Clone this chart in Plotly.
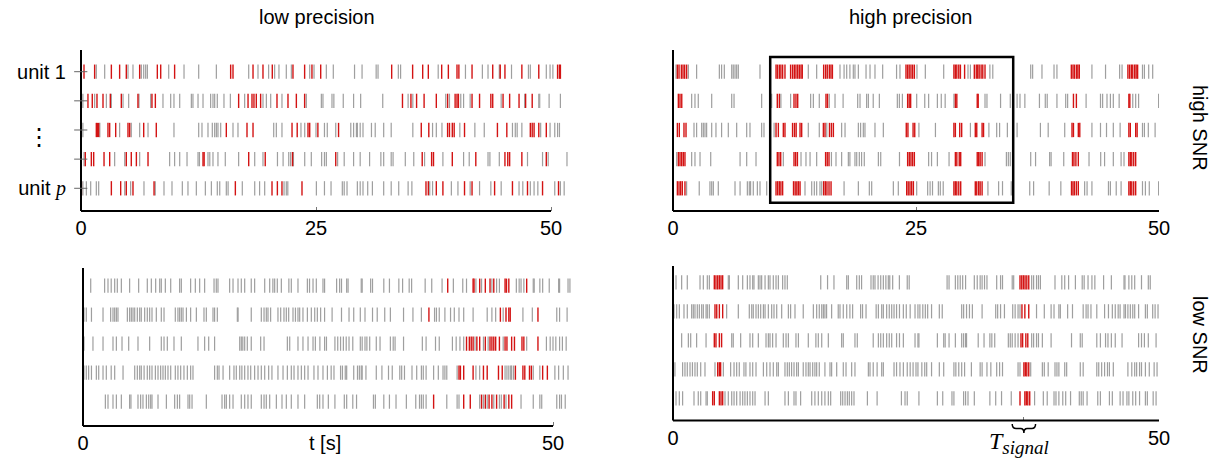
import plotly.graph_objects as go

# ---------------- data (spike times in seconds, rows = units 1..5) ----------------
ROWS = [1, 2, 3, 4, 5]

TL_red = [
    [0.32, 1.45, 3.23, 4.11, 4.82, 6.24, 8.12, 8.48, 9.96, 15.92, 16.17, 18.3, 19.36, 20.35, 22.55, 23.79, 24.57, 25.5,
     33.05, 35.28, 36.35, 36.95, 38.37, 39.08, 40.0, 40.2, 41.6, 43.8, 44.6, 45.1, 46.9, 48.7, 50.7, 50.9, 51.0],
    [0.74, 1.2, 1.7, 2.34, 3.12, 4.29, 6.06, 7.55, 7.91, 16.77, 17.77, 18.19, 18.4, 18.65, 19.11, 20.85, 22.02, 22.91,
     23.79, 34.2, 35.1, 35.7, 36.5, 37.8, 39.0, 39.8, 40.0, 40.15, 41.6, 42.4, 43.6, 43.8, 44.9, 45.6, 46.6, 47.3, 48.0],
    [1.63, 1.74, 1.88, 2.87, 3.05, 3.69, 5.0, 5.18, 6.67, 8.01, 15.46, 17.66, 18.3, 22.45, 23.0, 24.15, 24.33, 25.2,
     27.4, 36.2, 37.0, 39.0, 39.2, 39.5, 39.7, 40.8, 44.3, 45.3, 47.8, 48.0, 48.2, 48.7, 49.5],
    [0.46, 1.1, 1.35, 2.45, 3.05, 4.82, 5.35, 5.89, 7.13, 12.98, 13.1, 17.84, 19.6, 22.5, 27.1, 36.3, 37.3, 37.5, 39.5,
     42.0, 45.1, 45.4, 45.6, 46.9, 49.5],
    [0.04, 3.23, 4.22, 4.82, 5.53, 7.77, 16.42, 20.32, 20.89, 21.38, 23.51, 36.7, 36.95, 37.8, 38.5, 40.8, 41.6, 44.0,
     45.9, 47.5, 49.1, 50.8],
]
TL_gray = [
    [1.63, 2.52, 5.0, 5.53, 6.42, 6.67, 6.88, 7.06, 9.33, 10.96, 12.52, 14.4, 17.84, 18.83, 19.96, 20.6, 21.06, 21.84,
     22.38, 24.33, 24.79, 26.1, 26.84, 29.1, 29.9, 31.4, 31.6, 33.76, 34.0, 38.0, 40.9, 42.7, 43.3, 44.5, 45.8, 47.6,
     47.8, 49.5, 49.9, 50.2],
    [0.04, 0.2, 1.45, 2.7, 3.23, 4.47, 5.07, 6.17, 7.41, 8.72, 9.54, 9.89, 10.5, 11.74, 11.91, 12.45, 12.98, 13.79,
     14.04, 14.22, 14.5, 15.21, 15.89, 17.41, 19.36, 19.72, 20.18, 21.38, 23.97, 25.57, 25.74, 26.7, 26.9, 27.9, 29.0,
     29.75, 32.1, 34.8, 35.3, 38.8, 39.2, 40.4, 40.7, 41.4, 44.7, 47.2, 48.7, 48.8, 49.8, 51.0],
    [0.2, 2.0, 4.11, 5.35, 6.24, 7.13, 9.89, 12.52, 12.87, 13.51, 13.97, 14.22, 14.4, 14.57, 14.86, 16.17, 16.7, 20.5,
     20.78, 21.38, 23.4, 23.8, 25.0, 25.9, 26.2, 27.1, 28.7, 29.0, 29.3, 29.4, 29.7, 30.0, 30.9, 31.3, 32.2, 33.0,
     35.3, 37.4, 37.8, 38.4, 40.3, 41.9, 42.9, 45.9, 46.2, 46.4, 46.9, 48.9, 49.9, 50.4, 50.7, 50.9],
    [0.32, 3.58, 4.65, 6.24, 9.43, 9.96, 10.5, 11.28, 12.45, 12.6, 13.51, 13.7, 14.04, 14.57, 15.35, 16.77, 18.48,
     19.36, 20.9, 21.5, 22.1, 22.3, 22.6, 23.8, 24.5, 25.6, 25.9, 26.1, 27.3, 28.0, 29.0, 29.7, 30.7, 31.9, 32.2, 33.0,
     33.2, 34.5, 35.4, 36.55, 38.5, 40.7, 41.3, 43.3, 43.5, 44.5, 47.5, 49.1, 49.7, 51.7],
    [0.2, 0.57, 1.03, 1.63, 1.88, 4.65, 5.28, 6.7, 7.9, 8.83, 9.68, 10.78, 11.38, 12.27, 13.23, 13.87, 14.5, 14.76,
     15.46, 15.65, 17.16, 18.48, 19.0, 19.54, 21.6, 21.84, 22.0, 25.04, 25.9, 26.6, 27.8, 28.0, 28.3, 29.4, 29.7, 30.0,
     30.5, 31.0, 32.2, 33.0, 33.8, 34.8, 35.2, 37.1, 37.4, 39.4, 40.1, 41.4, 42.4, 43.6, 44.7, 46.6, 47.0, 47.8, 48.2,
     48.6, 50.4, 51.0, 51.4],
]

TR_red = [
    [0.45, 0.62, 0.86, 1.03, 1.2, 1.4, 10.6, 10.75, 10.94, 11.1, 11.28, 11.52, 12.1, 12.3, 12.48, 12.65, 12.83, 13.0,
     13.17, 13.3, 15.5, 15.7, 15.87, 16.08, 16.25, 16.4, 23.97, 24.14, 24.3, 24.48, 24.65, 24.83, 28.9, 29.05, 29.2,
     29.4, 29.57, 30.0, 31.0, 31.2, 31.35, 31.5, 31.7, 31.87, 32.1, 40.98, 41.15, 41.3, 41.5, 41.65, 41.8, 46.8, 46.97,
     47.15, 47.3, 47.5, 47.65, 47.8],
    [0.55, 0.72, 0.9, 10.73, 10.94, 12.45, 12.65, 12.83, 15.74, 15.9, 24.14, 24.3, 24.45, 29.05, 29.2, 31.3, 31.4,
     41.2, 41.5, 46.9, 47.0],
    [0.45, 0.65, 1.13, 1.34, 10.6, 10.84, 11.35, 11.52, 12.3, 12.5, 12.67, 13.07, 13.24, 15.47, 15.64, 16.1, 16.3,
     16.5, 24.0, 24.17, 24.7, 24.87, 28.9, 29.05, 29.5, 29.7, 31.1, 31.25, 31.8, 31.95, 41.05, 41.2, 41.7, 41.85,
     46.9, 47.05, 47.6, 47.75],
    [0.55, 0.72, 0.89, 1.06, 1.23, 10.73, 10.9, 11.08, 12.45, 12.62, 12.8, 15.7, 15.87, 16.05, 24.14, 24.31, 24.48,
     24.65, 24.83, 29.05, 29.2, 29.45, 29.6, 31.3, 31.45, 31.6, 31.8, 41.1, 41.25, 41.45, 41.7, 46.9, 47.05, 47.2,
     47.4, 47.6],
    [0.45, 0.62, 0.79, 0.96, 1.23, 10.6, 10.77, 10.94, 11.1, 11.28, 12.4, 12.57, 12.74, 12.9, 13.07, 15.5, 15.67,
     15.84, 16.05, 16.26, 24.04, 24.2, 24.38, 24.55, 24.73, 28.9, 29.05, 29.2, 29.4, 29.6, 31.1, 31.25, 31.45, 31.6,
     31.8, 41.0, 41.15, 41.3, 41.5, 41.7, 46.9, 47.05, 47.2, 47.4, 47.6],
]
TR_gray = [
    [0.31, 1.58, 2.43, 4.77, 5.0, 5.28, 6.04, 6.2, 6.38, 6.55, 6.72, 8.95, 13.92, 14.78, 17.18, 17.6, 17.87, 18.2,
     18.55, 18.72, 19.07, 19.86, 20.27, 20.78, 21.57, 23.0, 23.35, 25.1, 25.96, 27.85, 30.35, 30.6, 32.6, 32.9, 36.8,
     37.0, 37.96, 39.2, 39.5, 43.1, 44.5, 45.95, 46.2, 48.3, 48.5, 48.94, 49.35],
    [1.92, 2.26, 2.6, 3.98, 6.04, 6.28, 9.12, 10.15, 11.1, 12.1, 14.16, 14.44, 15.05, 16.08, 16.67, 17.5, 19.0, 19.24,
     19.92, 20.1, 20.6, 21.23, 23.08, 23.29, 23.6, 25.07, 25.9, 26.3, 27.2, 27.6, 28.0, 28.9, 32.1, 32.3, 33.7, 34.7,
     34.95, 35.4, 35.7, 36.2, 37.7, 38.3, 38.5, 39.5, 40.4, 40.6, 42.5, 43.98, 44.2, 44.65, 45.0, 45.3, 45.9, 47.3,
     47.6, 47.9, 49.96],
    [2.16, 2.43, 2.95, 3.12, 3.29, 3.46, 3.98, 4.42, 5.0, 5.69, 6.55, 7.58, 7.92, 9.12, 9.36, 10.4, 13.92, 15.05,
     15.82, 17.35, 17.7, 19.07, 19.3, 19.58, 19.75, 20.78, 21.64, 25.3, 27.0, 30.6, 32.5, 33.3, 33.6, 34.4, 35.4, 37.8,
     38.6, 40.3, 43.1, 43.98, 44.6, 45.3, 46.0, 48.3, 48.5, 48.9, 49.6],
    [0.38, 1.92, 2.26, 2.78, 3.88, 6.9, 7.58, 8.54, 11.35, 13.17, 13.68, 14.1, 14.78, 16.3, 16.77, 17.35, 18.04, 18.2,
     18.72, 18.9, 19.17, 19.4, 19.68, 21.13, 21.37, 23.3, 26.3, 26.6, 27.2, 28.4, 32.1, 34.3, 34.5, 34.7, 35.0, 36.8,
     37.3, 38.75, 38.9, 40.2, 42.8, 44.0, 44.4, 45.3, 46.1, 46.4],
    [1.4, 2.7, 3.8, 3.98, 4.15, 4.66, 6.38, 6.9, 7.65, 7.85, 7.98, 8.26, 8.68, 8.95, 9.64, 13.58, 14.27, 14.54, 14.78,
     15.12, 15.3, 17.6, 19.07, 20.2, 20.44, 22.67, 23.18, 25.07, 26.2, 26.45, 26.7, 27.3, 27.5, 27.8, 32.4, 33.5, 33.9,
     34.8, 34.95, 36.7, 37.1, 38.7, 39.9, 42.35, 42.6, 43.1, 44.8, 45.0, 45.6, 46.1, 48.3, 48.6, 49.0, 49.96],
]

BL_red = [
    [38.8, 41.5, 41.6, 42.2, 42.8, 43.3, 43.7, 44.9, 45.05, 45.3, 47.2],
    [36.8, 44.4, 45.0, 45.3, 45.45, 48.4],
    [40.8, 41.1, 41.3, 41.5, 41.9, 42.2, 42.8, 43.3, 43.5, 43.7, 43.9, 44.3, 44.9, 45.1, 45.6, 45.9, 46.7, 46.9, 48.4],
    [40.0, 40.15, 40.5, 41.5, 42.6, 43.0, 44.2, 44.6, 46.0, 46.8, 47.0, 47.5, 47.7, 48.9, 49.4],
    [37.3, 40.5, 41.2, 42.4, 42.8, 43.2, 43.5, 44.0, 44.8, 45.3, 45.6],
]
BL_gray = [
    [0.82, 2.3, 2.66, 3.0, 3.37, 3.65, 4.08, 4.96, 5.92, 6.84, 7.27, 7.73, 8.16, 8.33, 8.76, 9.33, 10.28, 10.46, 11.45,
     11.95, 12.41, 12.94, 13.94, 14.18, 14.36, 15.6, 15.96, 16.49, 16.84, 17.2, 17.9, 18.26, 19.33, 19.86, 20.2, 20.39,
     20.67, 21.1, 21.9, 22.16, 22.87, 23.87, 24.1, 24.47, 24.82, 25.53, 25.7, 26.98, 27.3, 27.5, 28.05, 28.2, 29.6,
     29.7, 30.6, 30.8, 32.0, 32.6, 33.6, 34.0, 34.7, 34.96, 36.4, 37.1, 38.2, 39.4, 40.4, 40.8, 41.8, 42.4, 43.5, 44.0,
     44.3, 46.1, 46.4, 46.6, 46.9, 47.9, 48.0, 48.6, 48.9, 49.6, 50.6, 50.7, 51.6, 51.8],
    [0.1, 0.35, 0.9, 2.13, 2.94, 3.19, 3.37, 3.55, 3.72, 4.72, 4.96, 5.14, 5.32, 5.5, 5.78, 6.03, 6.2, 6.56, 6.84,
     7.09, 7.34, 7.8, 8.33, 8.62, 9.82, 10.1, 10.28, 10.46, 10.64, 11.0, 11.45, 12.06, 12.87, 13.12, 13.83, 14.0,
     14.29, 16.42, 16.5, 17.9, 18.97, 19.26, 19.5, 19.68, 19.96, 20.74, 21.03, 21.38, 21.63, 21.88, 22.34, 22.6, 22.87,
     23.05, 23.4, 23.87, 24.29, 24.65, 24.93, 25.28, 25.7, 26.5, 27.5, 28.3, 28.8, 29.5, 30.0, 30.8, 31.3, 32.1, 32.7,
     34.1, 35.1, 36.0, 37.4, 37.6, 37.9, 38.5, 39.1, 39.5, 40.0, 40.5, 41.5, 43.0, 43.5, 43.9, 44.7, 46.8, 47.8, 50.4,
     50.7, 51.5],
    [0.1, 1.06, 2.13, 3.19, 3.55, 4.15, 4.86, 5.85, 7.09, 8.33, 8.62, 8.97, 9.68, 10.46, 12.23, 12.94, 13.37, 14.0,
     16.67, 16.84, 17.0, 17.2, 17.48, 17.9, 18.9, 19.26, 21.74, 21.99, 22.87, 23.4, 23.94, 24.47, 24.72, 25.2, 25.7,
     25.9, 26.8, 27.1, 27.4, 27.7, 28.0, 28.3, 28.7, 29.5, 29.7, 30.0, 30.2, 30.5, 31.2, 31.6, 32.7, 33.0, 33.2, 34.1,
     36.1, 36.5, 37.5, 37.9, 39.3, 39.7, 40.1, 40.5, 41.7, 42.6, 43.1, 44.7, 47.2, 49.3, 49.7, 50.0, 50.3, 50.7, 51.0,
     51.4],
    [0.1, 0.35, 0.6, 0.9, 1.42, 1.67, 2.13, 2.48, 3.0, 3.37, 4.26, 5.5, 5.78, 6.03, 6.2, 6.5, 6.84, 7.09, 7.34, 7.7,
     7.98, 8.26, 8.51, 8.76, 9.04, 9.33, 9.82, 10.1, 10.39, 10.74, 11.1, 11.45, 11.7, 14.0, 14.29, 14.47, 14.9, 15.6,
     16.06, 16.31, 16.67, 16.9, 17.2, 17.55, 17.84, 18.26, 18.62, 18.97, 19.33, 19.75, 20.1, 20.74, 21.28, 21.74,
     22.16, 22.45, 22.87, 23.23, 23.58, 23.94, 24.57, 25.0, 25.53, 26.0, 26.4, 26.7, 27.4, 27.6, 27.9, 28.05, 28.8,
     29.2, 29.4, 29.6, 29.7, 30.1, 31.2, 31.8, 32.5, 32.9, 33.7, 33.9, 34.2, 35.0, 35.5, 36.0, 36.2, 36.5, 37.3, 37.8,
     38.3, 38.5, 38.7, 39.8, 41.8, 42.2, 44.9, 45.1, 45.3, 45.5, 45.6, 45.8, 47.9, 48.6, 50.2, 50.6, 51.1, 51.6],
    [2.38, 2.66, 3.19, 3.55, 4.08, 4.96, 5.1, 5.85, 6.13, 6.38, 6.74, 6.99, 7.2, 7.34, 7.98, 8.87, 9.75, 10.04, 10.28,
     11.17, 11.35, 11.6, 13.12, 14.79, 15.07, 15.25, 15.6, 15.96, 16.84, 17.2, 17.55, 17.9, 18.97, 19.26, 19.5, 19.86,
     20.57, 21.17, 21.63, 22.16, 22.87, 23.58, 24.93, 25.18, 25.53, 26.1, 26.8, 27.8, 28.05, 28.7, 29.1, 30.9, 31.1,
     32.0, 32.6, 33.3, 34.4, 35.4, 35.8, 36.0, 36.2, 36.5, 38.7, 39.8, 40.0, 42.2, 42.6, 43.0, 43.7, 44.3, 44.5, 45.0,
     46.6, 47.9, 48.6, 48.8, 50.4, 50.7, 50.9, 51.3],
]

BR_red = [
    [4.25, 4.42, 4.6, 4.77, 4.94, 5.11, 35.7, 35.88, 36.05, 36.22, 36.4, 36.6],
    [4.32, 4.5, 4.77, 5.11, 35.9, 36.2, 36.6],
    [4.25, 4.42, 4.77, 5.0, 35.8, 35.97, 36.3, 36.5],
    [4.6, 4.77, 4.9, 36.1, 36.25, 36.4, 36.6],
    [4.08, 4.25, 4.77, 4.94, 5.11, 35.7, 36.2, 36.35, 36.5, 36.7],
]
BR_gray = [
    [0.31, 0.89, 1.47, 2.78, 3.12, 3.53, 3.74, 5.69, 5.8, 6.72, 7.17, 7.65, 7.92, 8.2, 8.33, 8.78, 8.95, 9.12, 9.47,
     9.81, 9.98, 10.32, 10.6, 10.84, 11.28, 11.52, 11.76, 15.2, 15.9, 16.56, 17.87, 18.04, 18.9, 19.17, 19.4, 20.37,
     20.6, 20.78, 21.1, 21.37, 21.64, 21.9, 22.15, 22.3, 22.6, 23.29, 24.1, 24.3, 28.2, 28.4, 29.05, 29.3, 29.55, 29.8,
     30.1, 31.0, 31.3, 31.6, 31.8, 32.05, 32.3, 33.3, 33.7, 33.9, 34.9, 35.05, 36.9, 37.1, 37.4, 37.6, 37.8, 39.3,
     40.0, 40.3, 40.7, 41.4, 42.1, 42.3, 42.7, 43.1, 43.4, 44.3, 45.1, 46.4, 46.5, 46.9, 47.2, 47.5, 48.2, 48.9, 49.1],
    [0.1, 0.38, 0.65, 1.13, 1.47, 1.92, 2.09, 2.26, 2.5, 2.71, 2.95, 3.12, 3.4, 3.53, 3.74, 5.52, 6.72, 7.85, 8.1,
     8.26, 8.54, 8.78, 9.02, 9.3, 9.47, 9.81, 10.15, 10.39, 10.67, 11.18, 11.87, 12.1, 12.55, 13.4, 14.44, 14.78,
     15.05, 15.3, 15.47, 15.63, 15.8, 16.32, 17.0, 17.18, 17.52, 17.87, 18.2, 18.48, 19.3, 19.5, 19.86, 20.9, 21.13,
     21.47, 21.64, 21.98, 22.25, 22.5, 22.74, 23.0, 23.3, 23.7, 24.0, 24.4, 24.9, 25.2, 25.4, 25.7, 25.96, 26.2, 26.6,
     27.4, 27.7, 29.7, 29.9, 30.2, 30.5, 30.8, 31.8, 33.2, 33.4, 33.7, 34.1, 34.95, 35.2, 35.5, 35.7, 37.4, 38.2, 38.9,
     39.2, 39.7, 39.85, 40.6, 41.1, 42.2, 42.5, 42.7, 43.0, 43.6, 44.4, 44.8, 45.2, 45.5, 45.8, 46.0, 46.4, 46.55,
     46.8, 47.05, 47.3, 47.5, 47.9, 48.6, 48.8, 49.35, 49.6, 49.9],
    [0.89, 1.58, 1.82, 2.43, 3.4, 6.04, 6.2, 6.96, 7.92, 8.2, 8.78, 9.57, 9.81, 9.98, 10.25, 10.6, 11.35, 11.63,
     11.87, 12.65, 12.9, 13.92, 14.7, 14.95, 15.3, 15.98, 17.35, 17.52, 18.72, 18.96, 20.6, 21.13, 21.37, 21.64, 21.98,
     22.25, 22.5, 23.0, 23.3, 23.7, 24.9, 25.2, 25.3, 27.2, 27.85, 28.0, 28.4, 29.05, 29.7, 29.9, 30.1, 30.2, 31.4,
     32.0, 32.6, 32.8, 33.1, 34.5, 34.7, 34.9, 35.2, 35.5, 36.9, 37.1, 37.4, 37.6, 38.0, 38.9, 41.0, 41.9, 42.1, 43.6,
     43.97, 44.5, 44.75, 45.1, 45.5, 46.2, 47.9, 48.2, 48.5, 48.9, 49.7],
    [0.2, 0.99, 1.23, 1.47, 1.75, 2.0, 2.26, 2.5, 2.85, 3.29, 4.32, 5.18, 5.93, 6.28, 6.55, 6.82, 7.3, 7.5, 7.92, 8.2,
     8.54, 9.3, 9.64, 9.98, 10.32, 10.67, 10.84, 11.52, 11.76, 11.97, 12.2, 12.45, 12.72, 12.9, 13.4, 13.68, 13.92,
     14.1, 14.37, 14.6, 14.78, 15.05, 15.63, 16.15, 16.32, 16.84, 17.52, 17.8, 18.38, 18.72, 20.1, 20.27, 20.6, 21.0,
     21.47, 21.64, 22.74, 23.0, 23.35, 23.7, 24.1, 24.4, 24.7, 25.0, 25.2, 25.6, 25.9, 26.1, 26.6, 27.4, 27.85, 28.9,
     29.1, 29.4, 29.7, 30.0, 30.7, 31.6, 31.8, 32.3, 32.7, 33.3, 33.6, 33.9, 35.5, 35.7, 36.8, 38.0, 38.2, 38.6, 39.3,
     39.5, 39.7, 40.3, 40.5, 41.9, 42.2, 43.6, 43.8, 44.1, 44.4, 44.7, 44.9, 45.3, 46.8, 47.2, 47.5, 47.7, 48.0, 48.2,
     48.6, 49.0, 49.5, 49.8],
    [0.03, 0.31, 0.65, 0.99, 2.16, 2.6, 2.85, 3.4, 3.53, 5.35, 5.69, 6.04, 6.28, 6.55, 6.9, 7.17, 7.4, 7.65, 7.92,
     8.2, 8.44, 9.47, 9.81, 11.52, 11.87, 12.45, 12.65, 13.13, 14.27, 14.6, 14.95, 15.3, 15.63, 15.98, 16.22, 17.25,
     17.46, 17.7, 17.94, 18.14, 18.38, 18.62, 20.0, 21.0, 23.5, 23.87, 24.1, 25.3, 27.2, 27.75, 28.7, 28.9, 29.9,
     30.1, 30.35, 31.0, 32.6, 33.2, 33.8, 34.8, 37.2, 38.1, 38.5, 39.2, 39.4, 39.7, 40.1, 40.4, 40.9, 41.8, 42.0, 42.2,
     42.6, 43.7, 43.97, 44.9, 45.2, 46.0, 46.3, 46.7, 46.9, 47.3, 47.6, 48.0, 48.6, 48.8, 49.4, 49.7],
]

X_TICKS_TOP = [0, 25, 50]
X_TICKS_BOTTOM = [0, 50]
UNIT_LABELS = ["unit 1", "", "", "", "unit <span style=\"font-family:'Liberation Serif'\"><i>p</i></span>"]
HIGHLIGHT_T = (10, 35)          # high-precision window (s)
HIGHLIGHT_ROWS = (0.5, 5.5)
T_SIGNAL = 36.1

# ---------------- styling helpers ----------------
W, H = 1228, 461
HALF = 0.245
GRAY = "#959595"
RED = "#d00000"
FONT = "Liberation Sans"


def px(x):
    return x / W


def py(y):
    return 1 - y / H


def segs(rows_times):
    xs, ys = [], []
    for r, ts in zip(ROWS, rows_times):
        for t in ts:
            xs += [t, t, None]
            ys += [r - HALF, r + HALF, None]
    return xs, ys


fig = go.Figure()
panels = [
    ("x", "y", TL_gray, TL_red),
    ("x2", "y2", TR_gray, TR_red),
    ("x3", "y3", BL_gray, BL_red),
    ("x4", "y4", BR_gray, BR_red),
]
for xa, ya, g, r in panels:
    for data, col, w, op in ((g, GRAY, 1.2, 0.9), (r, RED, 1.4, 0.92)):
        xs, ys = segs(data)
        fig.add_trace(go.Scatter(x=xs, y=ys, mode="lines", xaxis=xa, yaxis=ya, opacity=op,
                                 line=dict(color=col, width=w), hoverinfo="skip", showlegend=False))

common_x = dict(showgrid=False, zeroline=False, showline=False, ticks="inside", ticklen=4,
                tickcolor="#777", tickwidth=1, tickfont=dict(family=FONT, size=20, color="black"),
                ticklabelstandoff=3, automargin=False)
common_y = dict(showgrid=False, zeroline=False, showline=False, showticklabels=False, ticks="",
                automargin=False)

# pixel geometry of the four panels
TL = dict(l=81, r=570, t=50, b=211)
TR = dict(l=673, r=1159, t=50, b=211)
BL = dict(l=83, r=575, t=268, b=426)
BR = dict(l=673, r=1159, t=266, b=420.5)
SCALE_L = 9.4

fig.update_layout(
    width=W, height=H, margin=dict(l=0, r=0, t=0, b=0),
    paper_bgcolor="white", plot_bgcolor="rgba(0,0,0,0)",
    xaxis=dict(domain=[px(TL["l"]), px(TL["r"])], range=[0, (TL["r"] - TL["l"]) / SCALE_L],
               tickvals=X_TICKS_TOP, anchor="y", **common_x),
    yaxis=dict(domain=[py(TL["b"]), py(TL["t"])], range=[5.779, 0.256], anchor="x",
               **{**common_y, "showticklabels": True}, tickvals=ROWS, ticktext=UNIT_LABELS,
               tickfont=dict(family=FONT, size=20, color="black"), ticklabelstandoff=14),
    xaxis2=dict(domain=[px(TR["l"]), px(TR["r"])], range=[0, 50], tickvals=X_TICKS_TOP, anchor="y2", **common_x),
    yaxis2=dict(domain=[py(TR["b"]), py(TR["t"])], range=[5.779, 0.256], anchor="x2", **common_y),
    xaxis3=dict(domain=[px(BL["l"]), px(BL["r"])], range=[0, (BL["r"] - BL["l"]) / SCALE_L],
                tickvals=X_TICKS_BOTTOM, anchor="y3", **common_x),
    yaxis3=dict(domain=[py(BL["b"]), py(BL["t"])], range=[5.84, 0.39], anchor="x3", **common_y),
    xaxis4=dict(domain=[px(BR["l"]), px(BR["r"])], range=[0, 50], tickvals=[0, T_SIGNAL, 50],
                ticktext=["0", "", "50"], anchor="y4", **common_x),
    yaxis4=dict(domain=[py(BR["b"]), py(BR["t"])], range=[5.766, 0.438], anchor="x4", **common_y),
)

shapes = []
for xa, ya in (("x", "y"), ("x2", "y2"), ("x3", "y3"), ("x4", "y4")):
    dom_x = xa + " domain"
    dom_y = ya + " domain"
    shapes.append(dict(type="line", xref=dom_x, yref=dom_y, x0=0, x1=0, y0=0, y1=1,
                       line=dict(color="black", width=2)))
    shapes.append(dict(type="line", xref=xa, yref=dom_y, x0=0, x1=50, y0=0, y1=0,
                       line=dict(color="black", width=2)))
for r in ROWS:
    shapes.append(dict(type="line", xref="x domain", yref="y", x0=-0.014, x1=0.013, y0=r, y1=r,
                       line=dict(color="#666", width=1)))
shapes.append(dict(type="rect", xref="x2", yref="y2", x0=HIGHLIGHT_T[0], x1=HIGHLIGHT_T[1],
                   y0=HIGHLIGHT_ROWS[0], y1=HIGHLIGHT_ROWS[1], line=dict(color="black", width=2.5)))
ya_, ym_, yb_ = py(424), py(428.5), py(433)
t = T_SIGNAL
brace = (f"M {t-1.2},{ya_} Q {t-1.2},{ym_} {t-0.8},{ym_} L {t-0.35},{ym_} Q {t},{ym_} {t},{yb_} "
         f"Q {t},{ym_} {t+0.35},{ym_} L {t+0.8},{ym_} Q {t+1.2},{ym_} {t+1.2},{ya_}")
shapes.append(dict(type="path", xref="x4", yref="paper", path=brace, line=dict(color="black", width=1.5)))
fig.update_layout(shapes=shapes)

ann = [
    dict(text="low precision", x=px(317), y=py(17)),
    dict(text="high precision", x=px(910), y=py(17)),
    dict(text="high SNR", x=px(1200), y=py(128), textangle=90),
    dict(text="low SNR", x=px(1200), y=py(335), textangle=90),
    dict(text="t [s]", x=px(325), y=py(443)),
    dict(text="⋮", x=px(39), y=py(137), font=dict(family="DejaVu Sans", size=24, color="black")),
]
annotations = []
for a in ann:
    d = dict(xref="paper", yref="paper", showarrow=False, xanchor="center", yanchor="middle",
             font=dict(family=FONT, size=20, color="black"))
    d.update(a)
    annotations.append(d)
annotations.append(dict(xref="x4", yref="paper", x=T_SIGNAL - 0.5, y=py(443), showarrow=False,
                        xanchor="center", yanchor="middle",
                        text="<i>T</i><sub><span style=\"font-size:19px\"><i>signal</i></span></sub>",
                        font=dict(family="Liberation Serif", size=24, color="black")))
fig.update_layout(annotations=annotations)

fig.write_html("out.html", config={"displayModeBar": False},
               post_script="document.body.style.margin='0px';document.body.style.padding='0px';"
                           "document.documentElement.style.overflow='hidden';")
